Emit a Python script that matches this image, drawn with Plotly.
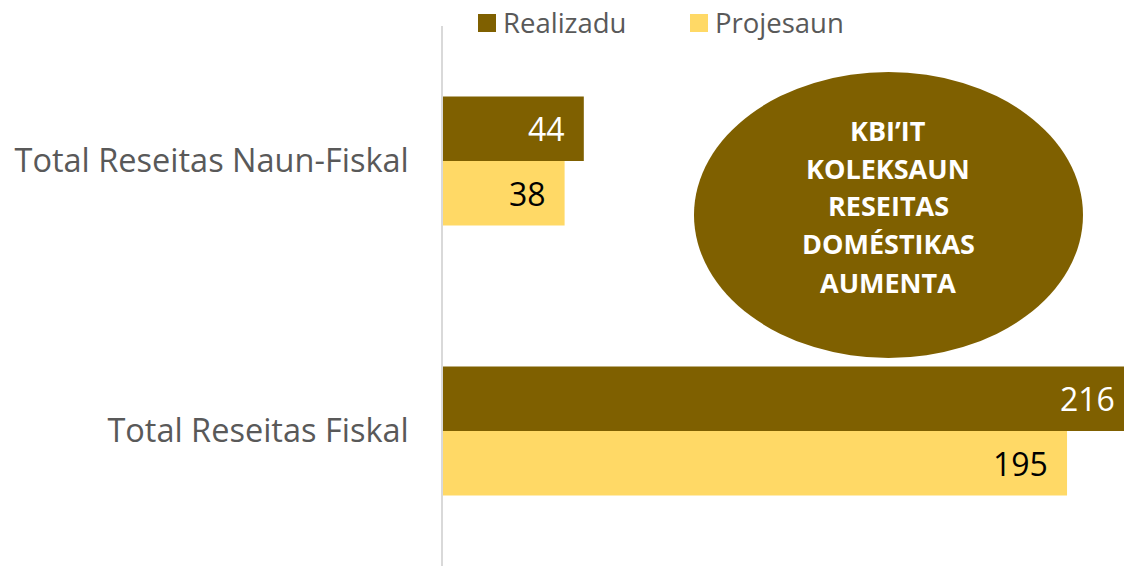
import plotly.graph_objects as go

categories = ["Total Reseitas Naun-Fiskal", "Total Reseitas Fiskal"]
realizadu = [44, 216]
projesaun = [38, 195]
series_names = ["Realizadu", "Projesaun"]
callout_lines = ["KBI’IT", "KOLEKSAUN", "RESEITAS", "DOMÉSTIKAS", "AUMENTA"]

DARK = "#7F6000"
LIGHT = "#FFD966"
GREY = "#595959"
FONT = "Open Sans"

W, H = 1124, 566
ML, MR, MT, MB = 443, 0, 26, 0
PW = W - ML - MR
PH = H - MT - MB
XMAX = 212.8
px_per_unit = PW / XMAX


def px2paper_x(px):
    return (px - ML) / PW


def px2paper_y(py):
    return 1 - (py - MT) / PH


fig = go.Figure()
fig.add_trace(go.Bar(y=categories, x=realizadu, name=series_names[0], orientation="h",
                     marker=dict(color=DARK, line=dict(width=0)), showlegend=False))
fig.add_trace(go.Bar(y=categories, x=projesaun, name=series_names[1], orientation="h",
                     marker=dict(color=LIGHT, line=dict(width=0)), showlegend=False))

annotations = []
shapes = []
pad_units = 17 / px_per_unit
bar_h = (1 - 0.522) / 2
for series, col, off in ((realizadu, "white", -bar_h / 2), (projesaun, "black", bar_h / 2)):
    for i, v in enumerate(series):
        annotations.append(dict(
            x=v - pad_units, y=i + off, xref="x", yref="y",
            text=str(v), showarrow=False, xanchor="right", yanchor="middle",
            font=dict(family=FONT, size=32, color=col)))

# legend (drawn manually)
for name, col, sx in ((series_names[0], DARK, 478), (series_names[1], LIGHT, 690)):
    shapes.append(dict(type="rect", xref="paper", yref="paper",
                       x0=px2paper_x(sx), x1=px2paper_x(sx + 18),
                       y0=px2paper_y(32), y1=px2paper_y(14),
                       fillcolor=col, line=dict(width=0)))
    annotations.append(dict(x=px2paper_x(sx + 24), y=px2paper_y(22), xref="paper", yref="paper",
                            text=name, showarrow=False, xanchor="left", yanchor="middle",
                            borderpad=0,
                            font=dict(family=FONT, size=27.5, color=GREY)))

# ellipse callout
shapes.append(dict(type="circle", xref="paper", yref="paper",
                   x0=px2paper_x(694), x1=px2paper_x(1083),
                   y0=px2paper_y(358), y1=px2paper_y(72),
                   fillcolor=DARK, line=dict(width=0), layer="above"))

line_gap = 38
cy = 206
n = len(callout_lines)
for k, t in enumerate(callout_lines):
    yy = cy + (k - (n - 1) / 2) * line_gap
    annotations.append(dict(x=px2paper_x(888), y=px2paper_y(yy), xref="paper", yref="paper",
                            text="<b>%s</b>" % t, showarrow=False, xanchor="center", yanchor="middle",
                            font=dict(family=FONT, size=27, color="white")))

fig.update_layout(
    width=W, height=H,
    margin=dict(l=ML, r=MR, t=MT, b=MB, pad=0),
    paper_bgcolor="white", plot_bgcolor="white",
    barmode="group", bargap=0.522, bargroupgap=0,
    xaxis=dict(range=[0, XMAX], visible=False, showgrid=False, zeroline=False),
    yaxis=dict(autorange="reversed", showline=True, linecolor="#D9D9D9", linewidth=1.5,
               ticks="", showgrid=False, ticklabelstandoff=26,
               tickfont=dict(family=FONT, size=32.5, color=GREY)),
    showlegend=False,
    shapes=shapes,
    annotations=annotations,
)

fig.write_html(
    "out.html",
    config={"displayModeBar": False},
    post_script="document.body.style.margin='0';document.body.style.overflow='hidden';",
)
